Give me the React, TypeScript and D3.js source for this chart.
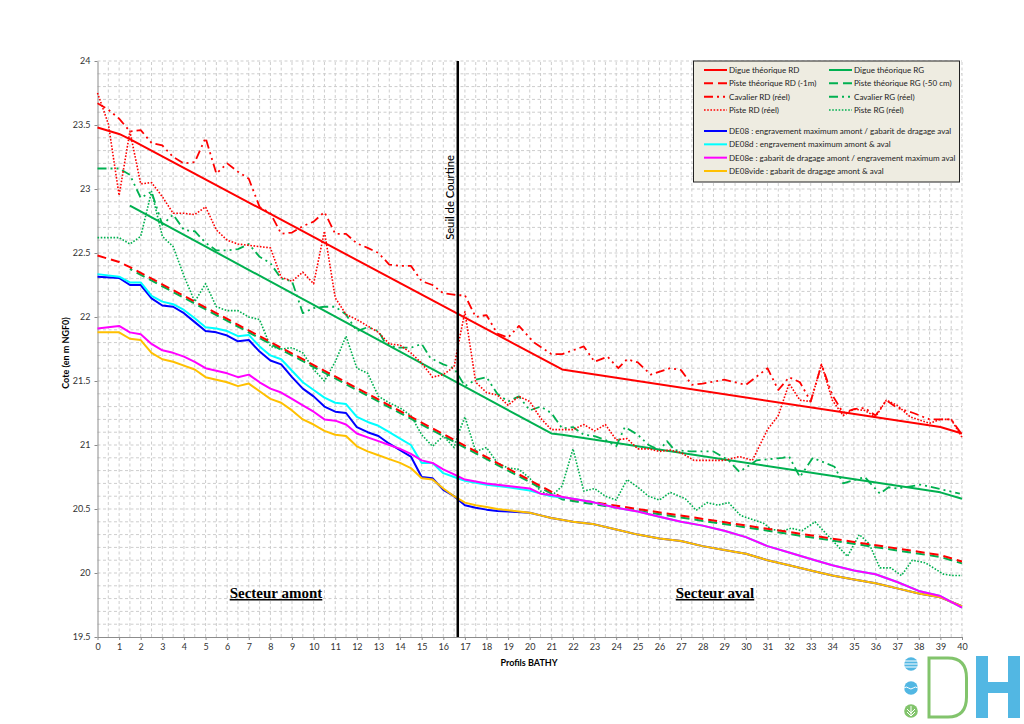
import React, { useRef, useEffect } from 'react';
import * as d3 from 'd3';

type Pt = [number, number];

const digueRD: Pt[] = [[0, 23.48], [1, 23.43], [1.5, 23.39], [21.5, 21.59], [39, 21.14], [40, 21.09]];
const digueRG: Pt[] = [[1.5, 22.87], [21, 21.09], [21.5, 21.08], [39, 20.63], [40, 20.58]];
const pisteTheoRD: Pt[] = [[0, 22.48], [1, 22.43], [1.5, 22.39], [21.5, 20.59], [39, 20.14], [40, 20.09]];
const pisteTheoRG: Pt[] = [[1.5, 22.375], [21.5, 20.575], [39, 20.125], [40, 20.075]];

const cavalierRD: Pt[] = [[0, 23.67], [0.5, 23.62], [1, 23.55], [1.5, 23.45], [2, 23.46], [2.5, 23.36], [3, 23.34], [3.5, 23.25], [4, 23.2], [4.5, 23.21], [5, 23.4], [5.5, 23.12], [6, 23.2], [6.5, 23.135], [7, 23.08], [7.5, 22.86], [8, 22.81], [8.5, 22.65], [9, 22.66], [9.5, 22.71], [10, 22.745], [10.5, 22.82], [11, 22.65], [11.5, 22.65], [12, 22.575], [12.5, 22.54], [13, 22.5], [13.5, 22.41], [14, 22.4], [14.5, 22.4], [15, 22.28], [15.5, 22.25], [16, 22.185], [16.7, 22.17], [17, 22.17], [17.5, 22.0], [18, 22.015], [18.5, 21.87], [19, 21.84], [19.5, 21.93], [20.2, 21.8], [21, 21.71], [21.5, 21.71], [22.5, 21.77], [23, 21.65], [23.6, 21.69], [24.1, 21.6], [24.5, 21.67], [25, 21.645], [25.6, 21.55], [26.5, 21.6], [27, 21.585], [27.5, 21.47], [28, 21.48], [29, 21.51], [30, 21.47], [31, 21.6], [31.5, 21.43], [32, 21.53], [32.5, 21.49], [33, 21.34], [33.5, 21.63], [34, 21.39], [34.5, 21.25], [35, 21.28], [35.5, 21.29], [36, 21.23], [36.5, 21.35], [37, 21.29], [37.75, 21.25], [38.5, 21.2], [39, 21.2], [39.5, 21.2], [40, 21.08]];

const pisteRD: Pt[] = [[0, 23.75], [0.5, 23.51], [1, 22.95], [1.5, 23.45], [2, 23.04], [2.5, 23.05], [3, 22.94], [3.5, 22.81], [4, 22.81], [4.5, 22.8], [5, 22.86], [5.5, 22.68], [6, 22.6], [6.5, 22.57], [7, 22.56], [7.5, 22.55], [8, 22.54], [8.5, 22.31], [9, 22.28], [9.5, 22.35], [10, 22.26], [10.5, 22.67], [11, 22.15], [11.5, 22.02], [12, 21.98], [12.5, 21.93], [13, 21.88], [13.5, 21.79], [14, 21.78], [14.5, 21.72], [15, 21.64], [15.5, 21.53], [16, 21.55], [16.5, 21.61], [16.7, 21.79], [17, 22.04], [17.5, 21.49], [18, 21.41], [18.5, 21.39], [19, 21.31], [19.5, 21.38], [20, 21.34], [20.5, 21.21], [21, 21.12], [22, 21.12], [22.5, 21.16], [23, 21.11], [23.5, 21.16], [24, 21.04], [24.5, 21.05], [25, 20.97], [25.5, 20.97], [26, 20.95], [26.5, 20.96], [27, 20.94], [27.6, 20.88], [28.2, 20.88], [29, 20.88], [29.7, 20.91], [30.3, 20.88], [31, 21.12], [31.5, 21.23], [32, 21.48], [32.5, 21.35], [33, 21.34], [33.5, 21.63], [34, 21.35], [34.5, 21.23], [35, 21.28], [35.5, 21.27], [36, 21.22], [36.5, 21.35], [37, 21.31], [37.6, 21.22], [38.5, 21.17], [39, 21.2], [39.5, 21.2], [40, 21.06]];

const cavalierRG: Pt[] = [[0, 23.16], [1, 23.16], [1.5, 23.11], [2, 22.93], [2.5, 22.98], [3, 22.72], [3.5, 22.8], [4, 22.68], [4.5, 22.67], [5, 22.58], [5.5, 22.52], [6, 22.52], [6.5, 22.53], [7, 22.57], [7.5, 22.47], [8, 22.42], [8.5, 22.3], [9, 22.28], [9.5, 22.03], [10, 22.07], [10.5, 22.08], [11, 22.08], [11.5, 22.02], [12, 21.89], [12.5, 21.92], [13, 21.89], [13.3, 21.8], [13.8, 21.76], [14.5, 21.76], [15, 21.79], [15.4, 21.68], [16, 21.63], [16.5, 21.6], [17, 21.46], [17.5, 21.51], [18, 21.53], [18.5, 21.4], [19, 21.34], [19.5, 21.38], [20, 21.27], [20.5, 21.3], [21, 21.25], [21.5, 21.13], [22, 21.14], [22.5, 21.08], [23, 21.07], [23.5, 21.04], [24, 20.99], [24.4, 21.14], [25, 21.08], [25.5, 21.0], [26, 20.96], [26.35, 21.03], [26.7, 20.96], [27.4, 20.95], [28.5, 20.95], [29.2, 20.88], [29.7, 20.79], [30.5, 20.88], [31.7, 20.9], [32, 20.91], [32.5, 20.75], [33.1, 20.9], [34.1, 20.83], [34.5, 20.7], [35.5, 20.75], [36.2, 20.62], [36.6, 20.67], [37, 20.66], [38.1, 20.69], [39.9, 20.62]];

const pisteRG: Pt[] = [[0, 22.62], [1, 22.62], [1.5, 22.57], [2, 22.63], [2.5, 22.98], [3, 22.63], [3.5, 22.55], [4, 22.32], [4.5, 22.12], [5, 22.26], [5.5, 22.08], [6, 22.05], [6.5, 22.05], [7, 22.0], [7.5, 21.98], [8, 21.77], [8.5, 21.75], [9, 21.76], [9.5, 21.72], [10, 21.59], [10.5, 21.5], [11, 21.65], [11.5, 21.85], [12, 21.6], [12.5, 21.56], [13, 21.38], [13.5, 21.33], [14, 21.29], [14.5, 21.23], [15, 21.08], [15.5, 20.99], [16, 21.07], [16.5, 20.98], [16.7, 21.09], [17, 21.22], [17.5, 20.95], [18, 20.98], [18.5, 20.86], [19, 20.82], [19.5, 20.81], [20, 20.74], [20.5, 20.64], [21, 20.6], [21.5, 20.68], [22, 20.97], [22.5, 20.64], [23, 20.66], [23.5, 20.6], [24, 20.57], [24.5, 20.73], [25, 20.67], [25.5, 20.6], [26, 20.57], [26.5, 20.63], [27.2, 20.58], [27.7, 20.49], [28.2, 20.55], [28.7, 20.53], [29.2, 20.55], [29.75, 20.45], [30.8, 20.39], [31.2, 20.34], [31.75, 20.33], [32.1, 20.35], [32.6, 20.33], [33.2, 20.4], [33.7, 20.31], [34.7, 20.13], [35.25, 20.3], [35.7, 20.23], [36.2, 20.04], [36.7, 20.04], [37.2, 19.98], [37.7, 20.1], [38.3, 20.08], [39.15, 19.99], [39.6, 19.98], [40, 19.98]];

const de08: Pt[] = [[0, 22.315], [1, 22.305], [1.5, 22.25], [2, 22.25], [2.5, 22.145], [3, 22.09], [3.5, 22.08], [4, 22.03], [4.5, 21.96], [5, 21.89], [5.5, 21.88], [6, 21.855], [6.5, 21.81], [7, 21.82], [7.5, 21.73], [8, 21.66], [8.5, 21.63], [9, 21.53], [9.5, 21.44], [10, 21.38], [10.5, 21.3], [11, 21.26], [11.5, 21.25], [12, 21.14], [12.5, 21.1], [13, 21.07], [13.5, 21.01], [14, 20.96], [14.5, 20.91], [15, 20.75], [15.5, 20.74], [16, 20.65], [16.5, 20.6], [17, 20.53], [17.5, 20.51], [18, 20.495], [18.5, 20.485], [19, 20.48], [20, 20.47], [20.5, 20.45], [21, 20.43], [22, 20.4], [23, 20.38], [24, 20.34], [25, 20.3], [26, 20.27], [27, 20.25], [28, 20.21], [29, 20.18], [30, 20.15], [31, 20.1], [32, 20.06], [33, 20.02], [34, 19.98], [35, 19.95], [36, 19.92], [37, 19.88], [38, 19.84], [39, 19.81], [40, 19.74]];

const de08d: Pt[] = [[0, 22.335], [1, 22.315], [1.5, 22.27], [2, 22.27], [2.5, 22.165], [3, 22.12], [3.5, 22.1], [4, 22.055], [4.5, 21.99], [5, 21.92], [5.5, 21.91], [6, 21.89], [6.5, 21.85], [7, 21.86], [7.5, 21.77], [8, 21.7], [8.5, 21.67], [9, 21.58], [9.5, 21.49], [10, 21.43], [10.5, 21.37], [11, 21.33], [11.5, 21.32], [12, 21.22], [12.5, 21.18], [13, 21.15], [13.5, 21.1], [14, 21.05], [14.5, 21.0], [15, 20.86], [15.5, 20.86], [16, 20.78], [16.5, 20.75], [17, 20.72], [18, 20.69], [19, 20.67], [20, 20.645], [20.5, 20.62], [21, 20.6], [22, 20.58], [23, 20.55], [24, 20.51], [25, 20.48], [26, 20.44], [27, 20.4], [28, 20.37], [29, 20.33], [30, 20.28], [31, 20.21], [32, 20.16], [33, 20.11], [34, 20.06], [35, 20.02], [36, 19.99], [37, 19.93], [38, 19.86], [39, 19.82], [40, 19.73]];

const de08e: Pt[] = [[0, 21.91], [1, 21.93], [1.5, 21.88], [2, 21.865], [2.5, 21.79], [3, 21.74], [3.5, 21.72], [4, 21.69], [4.5, 21.65], [5, 21.6], [5.5, 21.58], [6, 21.56], [6.5, 21.53], [7, 21.55], [7.5, 21.49], [8, 21.44], [8.5, 21.41], [9, 21.36], [9.5, 21.31], [10, 21.26], [10.5, 21.2], [11, 21.19], [11.5, 21.16], [12, 21.09], [12.5, 21.06], [13, 21.03], [13.5, 21.0], [14, 20.97], [14.5, 20.93], [15, 20.88], [15.5, 20.86], [16, 20.81], [16.5, 20.77], [17, 20.73], [18, 20.7], [19, 20.68], [20, 20.66], [20.5, 20.62], [21, 20.61], [22, 20.58], [23, 20.55], [24, 20.51], [25, 20.48], [26, 20.44], [27, 20.4], [28, 20.37], [29, 20.33], [30, 20.28], [31, 20.21], [32, 20.16], [33, 20.11], [34, 20.06], [35, 20.02], [36, 19.99], [37, 19.93], [38, 19.86], [39, 19.82], [40, 19.73]];

const de08vide: Pt[] = [[0, 21.88], [1, 21.88], [1.5, 21.83], [2, 21.82], [2.5, 21.72], [3, 21.67], [3.5, 21.65], [4, 21.62], [4.5, 21.59], [5, 21.53], [5.5, 21.51], [6, 21.49], [6.5, 21.46], [7, 21.48], [7.5, 21.42], [8, 21.36], [8.5, 21.33], [9, 21.27], [9.5, 21.2], [10, 21.16], [10.5, 21.11], [11, 21.08], [11.5, 21.07], [12, 20.99], [12.5, 20.95], [13, 20.92], [13.5, 20.89], [14, 20.86], [14.5, 20.82], [15, 20.74], [15.5, 20.73], [16, 20.66], [16.5, 20.6], [17, 20.55], [17.5, 20.53], [18, 20.515], [18.5, 20.5], [19, 20.49], [20, 20.47], [20.5, 20.45], [21, 20.43], [22, 20.4], [23, 20.38], [24, 20.34], [25, 20.3], [26, 20.27], [27, 20.25], [28, 20.21], [29, 20.18], [30, 20.15], [31, 20.1], [32, 20.06], [33, 20.02], [34, 19.98], [35, 19.95], [36, 19.92], [37, 19.88], [38, 19.84], [39, 19.81], [40, 19.74]];

const seuilCourtine = 16.67;
const xTicks = d3.range(0, 41);
const yTicks = [19.5, 20, 20.5, 21, 21.5, 22, 22.5, 23, 23.5, 24];

const RED = '#ff0000';
const GREEN = '#00b050';
const DASH = '9 5';
const DASHDOT = '9 4 2 4 2 4';
const DOT = '1.6 1.6';

const seriesList = [
  { data: digueRG, color: GREEN, dash: null, w: 2, offset: 0 },
  // offset keeps the green dashes in phase with the red ones, which start further left
  { data: pisteTheoRG, color: GREEN, dash: DASH, w: 2, offset: 34.4 },
  { data: cavalierRG, color: GREEN, dash: DASHDOT, w: 1.8, offset: 0 },
  { data: pisteRG, color: GREEN, dash: DOT, w: 1.6, offset: 0 },
  { data: digueRD, color: RED, dash: null, w: 2, offset: 0 },
  { data: pisteTheoRD, color: RED, dash: DASH, w: 2, offset: 0 },
  { data: cavalierRD, color: RED, dash: DASHDOT, w: 1.8, offset: 0 },
  { data: pisteRD, color: RED, dash: DOT, w: 1.6, offset: 0 },
  { data: de08, color: '#0000ff', dash: null, w: 2, offset: 0 },
  { data: de08d, color: '#00ffff', dash: null, w: 2, offset: 0 },
  { data: de08vide, color: '#ffc000', dash: null, w: 2, offset: 0 },
  { data: de08e, color: '#ff00ff', dash: null, w: 2, offset: 0 },
];

const legendLeft = [
  { label: 'Digue théorique RD', color: RED, dash: null },
  { label: 'Piste théorique RD (-1m)', color: RED, dash: DASH },
  { label: 'Cavalier RD (réel)', color: RED, dash: DASHDOT },
  { label: 'Piste RD (réel)', color: RED, dash: DOT },
];
const legendRight = [
  { label: 'Digue théorique RG', color: GREEN, dash: null },
  { label: 'Piste théorique RG (-50 cm)', color: GREEN, dash: DASH },
  { label: 'Cavalier RG (réel)', color: GREEN, dash: DASHDOT },
  { label: 'Piste RG (réel)', color: GREEN, dash: DOT },
];
const legendSim = [
  { label: 'DE08 : engravement maximum amont / gabarit de dragage aval', color: '#0000ff' },
  { label: 'DE08d : engravement maximum amont & aval', color: '#00ffff' },
  { label: 'DE08e : gabarit de dragage amont / engravement maximum aval', color: '#ff00ff' },
  { label: 'DE08vide : gabarit de dragage amont & aval', color: '#ffc000' },
];

const FONT = 'Lato, "Open Sans", sans-serif';

const App: React.FC = () => {
  const ref = useRef<SVGSVGElement | null>(null);

  useEffect(() => {
    if (!ref.current) return;
    const svg = d3.select(ref.current);
    svg.selectAll('*').remove();

    const x = d3.scaleLinear().domain([0, 40]).range([97.5, 962]);
    const y = d3.scaleLinear().domain([19.5, 24]).range([637, 61]);

    // Grid
    const grid = svg.append('g').attr('stroke', '#cdcdcd').attr('stroke-width', 1).attr('stroke-dasharray', '3 2.5');
    d3.range(1, 81).forEach((i) => {
      grid.append('line').attr('x1', x(i / 2)).attr('x2', x(i / 2)).attr('y1', y(19.5)).attr('y2', y(24));
    });
    d3.range(1, 46).forEach((i) => {
      const v = 19.5 + i / 10;
      grid.append('line').attr('x1', x(0)).attr('x2', x(40)).attr('y1', y(v)).attr('y2', y(v));
    });

    // Axes
    const xAxis = svg.append('g').attr('transform', `translate(0,${y(19.5)})`)
      .call(d3.axisBottom(x).tickValues(xTicks).tickFormat(d3.format('d')).tickSizeInner(3).tickSizeOuter(0).tickPadding(4));
    const yAxis = svg.append('g').attr('transform', `translate(${x(0)},0)`)
      .call(d3.axisLeft(y).tickValues(yTicks).tickFormat((d) => String(d)).tickSizeInner(3).tickSizeOuter(0).tickPadding(4));
    [xAxis, yAxis].forEach((a) => {
      a.selectAll('path,line').attr('stroke', '#8c8c8c');
      a.selectAll('text').attr('fill', '#333').style('font-family', FONT).style('font-size', '9px');
    });

    // Series
    const line = d3.line<Pt>().x((d) => x(d[0])).y((d) => y(d[1]));
    seriesList.forEach((s) => {
      svg.append('path')
        .attr('d', line(s.data))
        .attr('fill', 'none')
        .attr('stroke', s.color)
        .attr('stroke-width', s.w)
        .attr('stroke-linejoin', 'round')
        .attr('stroke-dasharray', s.dash)
        .attr('stroke-dashoffset', s.offset);
    });

    // Seuil de Courtine
    svg.append('line')
      .attr('x1', x(seuilCourtine)).attr('x2', x(seuilCourtine))
      .attr('y1', y(24)).attr('y2', y(19.5))
      .attr('stroke', '#000').attr('stroke-width', 2.5);
    svg.append('text')
      .attr('transform', `translate(${x(seuilCourtine) - 3.5},197.5) rotate(-90)`)
      .attr('text-anchor', 'middle')
      .style('font-family', FONT).style('font-size', '11.2px').style('font-weight', 500)
      .text('Seuil de Courtine');

    // Axis titles
    svg.append('text').attr('x', 529).attr('y', 666).attr('text-anchor', 'middle')
      .style('font-family', FONT).style('font-size', '9px').style('font-weight', 700)
      .text('Profils BATHY');
    svg.append('text').attr('transform', 'translate(69,353) rotate(-90)').attr('text-anchor', 'middle')
      .style('font-family', FONT).style('font-size', '9px').style('font-weight', 700)
      .text('Cote (en m NGF0)');

    // Sector labels
    [['Secteur amont', 276], ['Secteur aval', 715]].forEach(([t, cx]) => {
      svg.append('text').attr('x', cx as number).attr('y', 598).attr('text-anchor', 'middle')
        .attr('text-decoration', 'underline')
        .style('font-family', '"Liberation Serif", serif').style('font-size', '15px').style('font-weight', 700)
        .text(t as string);
    });

    // Legend
    const legend = svg.append('g');
    legend.append('rect').attr('x', 693.5).attr('y', 61).attr('width', 266).attr('height', 121)
      .attr('fill', '#eeece1').attr('stroke', '#222').attr('stroke-width', 1);
    const legendItem = (lx: number, ly: number, label: string, color: string, dash: string | null, tx = 25) => {
      legend.append('line').attr('x1', lx).attr('x2', lx + 23).attr('y1', ly).attr('y2', ly)
        .attr('stroke', color).attr('stroke-width', dash === DOT ? 1.5 : 2).attr('stroke-dasharray', dash);
      legend.append('text').attr('x', lx + tx).attr('y', ly + 3)
        .attr('fill', '#222')
        .style('font-family', FONT).style('font-size', '8.05px')
        .text(label);
    };
    const rowY = d3.scalePoint<number>().domain([0, 1, 2, 3]).range([70, 110]);
    const simY = d3.scalePoint<number>().domain([0, 1, 2, 3]).range([131, 171]);
    legendLeft.forEach((d, i) => legendItem(704, rowY(i) as number, d.label, d.color, d.dash));
    legendRight.forEach((d, i) => legendItem(829, rowY(i) as number, d.label, d.color, d.dash));
    legendSim.forEach((d, i) => legendItem(704, simY(i) as number, d.label, d.color, null));

    // Logo
    const logo = svg.append('g');
    logo.append('circle').attr('cx', 911).attr('cy', 664).attr('r', 6.8).attr('fill', '#52b7e3');
    [661, 664, 667].forEach((ly) => {
      logo.append('line').attr('x1', 904).attr('x2', 918).attr('y1', ly).attr('y2', ly).attr('stroke', '#fff').attr('stroke-width', 1);
    });
    logo.append('circle').attr('cx', 911).attr('cy', 688).attr('r', 6.8).attr('fill', '#52b7e3');
    logo.append('path').attr('d', 'M904 688 q2.3 -2 4.6 0 t4.6 0 t4.6 0').attr('fill', 'none').attr('stroke', '#fff').attr('stroke-width', 1);
    logo.append('circle').attr('cx', 911).attr('cy', 711).attr('r', 6.8).attr('fill', '#82c46c');
    logo.append('path').attr('d', 'M911 706 V716 M907 709 L911 713 L915 709 M907 712 L911 716 L915 712')
      .attr('fill', 'none').attr('stroke', '#fff').attr('stroke-width', 1);
    logo.append('path').attr('d', 'M929 658 H948 Q966.5 658 966.5 678 V697 Q966.5 717 948 717 H929 Z')
      .attr('fill', 'none').attr('stroke', '#82c46c').attr('stroke-width', 3);
    logo.append('path').attr('d', 'M976 656 H988 V682 H1008 V656 H1020 V718 H1008 V693 H988 V718 H976 Z')
      .attr('fill', '#52b7e3');
  }, []);

  return (
    <svg
      ref={ref}
      width={1024}
      height={724}
      style={{ position: 'absolute', left: 0, top: 0, background: '#fff' }}
    />
  );
};

export default App;
